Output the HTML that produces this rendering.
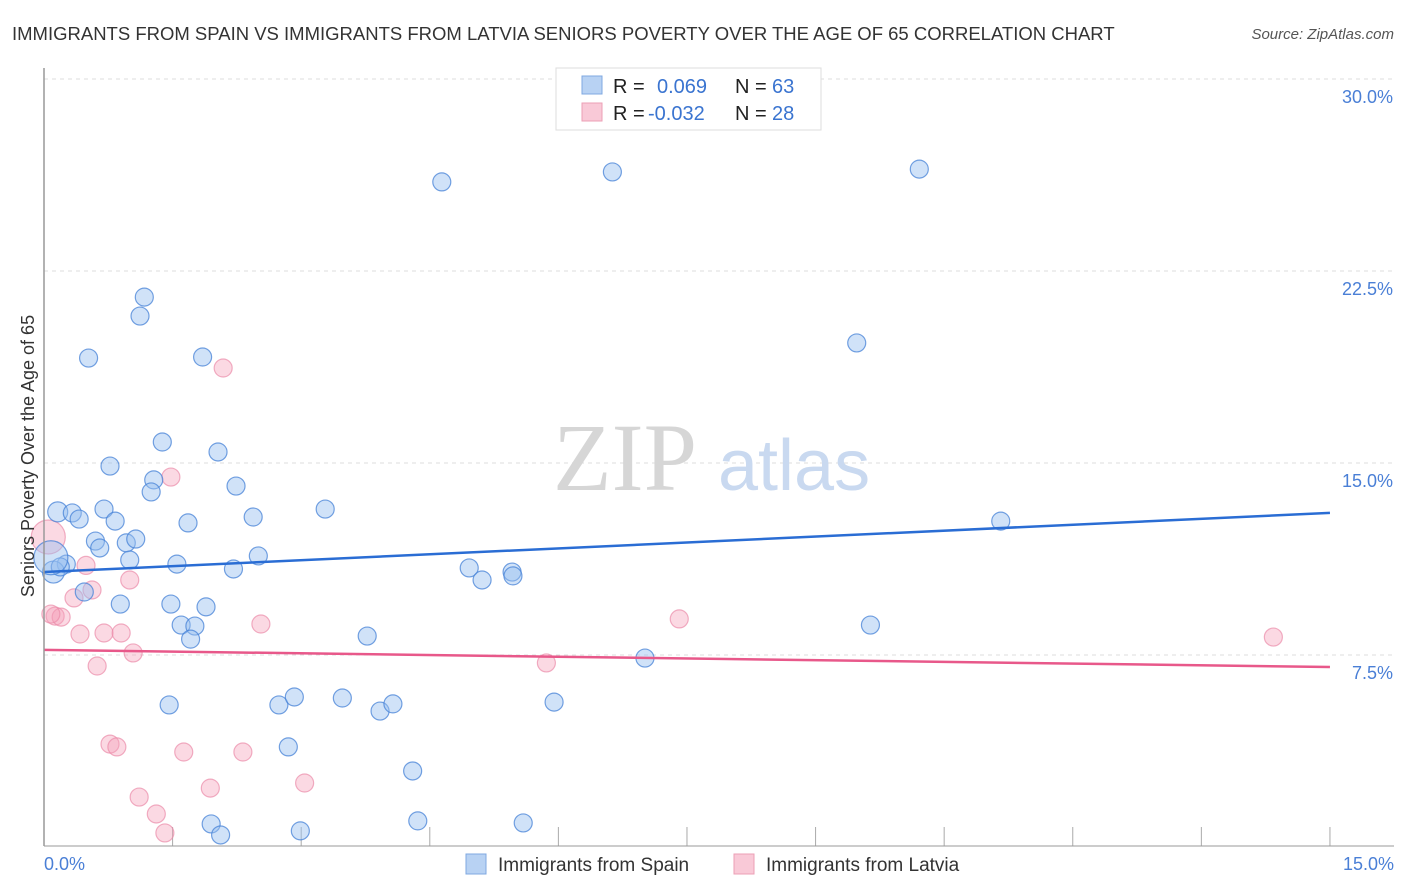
<!DOCTYPE html>
<html><head><meta charset="utf-8"><style>
body{margin:0;background:#fff;font-family:"Liberation Sans",sans-serif;}
svg{display:block}
</style></head><body>
<svg id="chart" width="1406" height="892">
<text x="12" y="40" font-size="18.5" fill="#333">IMMIGRANTS FROM SPAIN VS IMMIGRANTS FROM LATVIA SENIORS POVERTY OVER THE AGE OF 65 CORRELATION CHART</text>
<text x="1394" y="39" font-size="15" fill="#555" font-style="italic" text-anchor="end">Source: ZipAtlas.com</text>
<g id="grid"></g>
<text x="553" y="490" font-size="96" fill="#d6d6d6" font-family="Liberation Serif,serif">ZIP</text>
<text x="718" y="490" font-size="72" fill="#c9d9f0">atlas</text>
<g id="points"></g>
<g id="trends"></g>
<line x1="44" y1="68" x2="44" y2="846" stroke="#999" stroke-width="1.5"/>
<line x1="44" y1="846" x2="1394" y2="846" stroke="#999" stroke-width="1"/>
<text transform="translate(34,456) rotate(-90)" font-size="18" fill="#333" text-anchor="middle">Seniors Poverty Over the Age of 65</text>
<text x="44" y="870" font-size="18" fill="#4a7fd6">0.0%</text>
<text x="1394" y="870" font-size="18" fill="#4a7fd6" text-anchor="end">15.0%</text>
<g>
<rect x="556" y="68" width="265" height="62" fill="#fff" stroke="#ddd"/>
<rect x="582" y="76" width="20" height="18" fill="#b8d2f3" stroke="#7fa8e0"/>
<rect x="582" y="103" width="20" height="18" fill="#f9c9d7" stroke="#ec9fb6"/>
<text font-size="20" fill="#222"><tspan x="613" y="93">R = </tspan><tspan x="657" fill="#3a74d0">0.069</tspan><tspan x="735">N = </tspan><tspan x="772" fill="#3a74d0">63</tspan></text>
<text font-size="20" fill="#222"><tspan x="613" y="120">R = </tspan><tspan x="648" fill="#3a74d0">-0.032</tspan><tspan x="735">N = </tspan><tspan x="772" fill="#3a74d0">28</tspan></text>
</g>
<g>
<rect x="466" y="854" width="20" height="20" fill="#b8d2f3" stroke="#7fa8e0"/>
<text x="498" y="871" font-size="19" fill="#333">Immigrants from Spain</text>
<rect x="734" y="854" width="20" height="20" fill="#f9c9d7" stroke="#ec9fb6"/>
<text x="766" y="871" font-size="19" fill="#333">Immigrants from Latvia</text>
</g>
</svg>
<script>
const yTicks=[7.5,15,22.5,30];
const yTickLabels=["7.5%","15.0%","22.5%","30.0%"];
const spainX=[4.64,6.63,10.21,1.17,1.12,0.52,1.85,9.48,1.38,2.03,0.77,1.28,1.25,2.24,0.16,0.33,0.41,0.70,0.83,1.68,2.44,3.28,11.16,0.60,0.65,0.96,1.07,1.00,1.55,2.50,2.21,0.26,0.11,0.19,4.96,5.11,5.46,5.47,0.47,0.89,1.48,1.89,1.60,1.76,1.71,3.77,9.64,7.01,1.46,2.74,2.92,3.48,3.92,4.07,5.95,2.85,4.30,1.95,2.06,2.99,4.36,5.59,0.08];
const spainY=[25.98,26.37,26.48,21.48,20.74,19.10,19.14,19.69,15.82,15.43,14.88,14.34,13.87,14.10,13.09,13.05,12.81,13.20,12.73,12.66,12.89,13.20,12.73,11.95,11.68,11.88,12.03,11.21,11.05,11.37,10.86,11.05,10.74,10.94,10.90,10.43,10.74,10.59,9.96,9.49,9.49,9.38,8.67,8.63,8.12,8.24,8.67,7.38,5.55,5.55,5.86,5.82,5.31,5.59,5.66,3.91,2.97,0.90,0.47,0.63,1.02,0.94,11.30];
const spainR=[9,9,9,9,9,9,9,9,9,9,9,9,9,9,10,9,9,9,9,9,9,9,9,9,9,9,9,9,9,9,9,9,11,9,9,9,9,9,9,9,9,9,9,9,9,9,9,9,9,9,9,9,9,9,9,9,9,9,9,9,9,9,17];
const latviaX=[0.05,2.09,1.48,0.49,0.56,0.35,0.13,0.20,1.00,0.42,0.70,0.90,2.53,1.04,0.62,5.86,7.41,14.34,0.77,0.85,1.63,2.32,1.11,1.94,3.04,1.31,1.41,0.08];
const latviaY=[12.11,18.71,14.45,11.00,10.04,9.73,9.02,8.98,10.43,8.32,8.36,8.36,8.71,7.58,7.07,7.19,8.91,8.20,4.02,3.91,3.71,3.71,1.95,2.30,2.50,1.29,0.55,9.10];
const latviaR=[17,9,9,9,9,9,9,9,9,9,9,9,9,9,9,9,9,9,9,9,9,9,9,9,9,9,9,9];
const trendSpain=[10.74,13.05];
const trendLatvia=[7.7,7.03];
const NS="http://www.w3.org/2000/svg";
const xs=v=>44+v*85.73, ys=v=>847-v*25.6;
const grid=document.getElementById('grid');
yTicks.forEach((t,i)=>{
 const l=document.createElementNS(NS,'line');
 l.setAttribute('x1',44);l.setAttribute('x2',1394);l.setAttribute('y1',ys(t));l.setAttribute('y2',ys(t));
 l.setAttribute('stroke','#ddd');l.setAttribute('stroke-dasharray','4,4');
 
 
 grid.appendChild(l);
 const tx=document.createElementNS(NS,'text');
 tx.setAttribute('x',1393);tx.setAttribute('y',ys(t)+24);tx.setAttribute('text-anchor','end');
 tx.setAttribute('font-size','18');tx.setAttribute('fill','#4a7fd6');tx.textContent=yTickLabels[i];
 
 
 grid.appendChild(tx);
});
for(let i=1;i<=10;i++){
 const l=document.createElementNS(NS,'line');
 const x=xs(i*1.5);
 l.setAttribute('x1',x);l.setAttribute('x2',x);l.setAttribute('y1',827);l.setAttribute('y2',846);
 l.setAttribute('stroke','#aaa');
 
 
 grid.appendChild(l);
}
const pts=document.getElementById('points');
function draw(X,Y,R,fill,stroke,name){
 X.forEach((x,i)=>{
  const c=document.createElementNS(NS,'circle');
  c.setAttribute('cx',xs(x));c.setAttribute('cy',ys(Y[i]));c.setAttribute('r',R[i]);
  c.setAttribute('fill',fill);c.setAttribute('stroke',stroke);c.setAttribute('stroke-width','1.2');
  
  
  pts.appendChild(c);
 });
}
draw(latviaX,latviaY,latviaR,'rgba(245,160,185,0.4)','rgba(235,140,170,0.7)','latvia-point');
draw(spainX,spainY,spainR,'rgba(150,190,240,0.45)','rgba(70,130,215,0.75)','spain-point');
const tr=document.getElementById('trends');
[[trendSpain,'#2a6dd4','spain-trend-line'],[trendLatvia,'#e8588a','latvia-trend-line']].forEach(([t,c,n])=>{
 const l=document.createElementNS(NS,'line');
 l.setAttribute('x1',xs(0));l.setAttribute('x2',xs(15));l.setAttribute('y1',ys(t[0]));l.setAttribute('y2',ys(t[1]));
 l.setAttribute('stroke',c);l.setAttribute('stroke-width','2.5');
 
 
 tr.appendChild(l);
});
</script>
</body></html>
